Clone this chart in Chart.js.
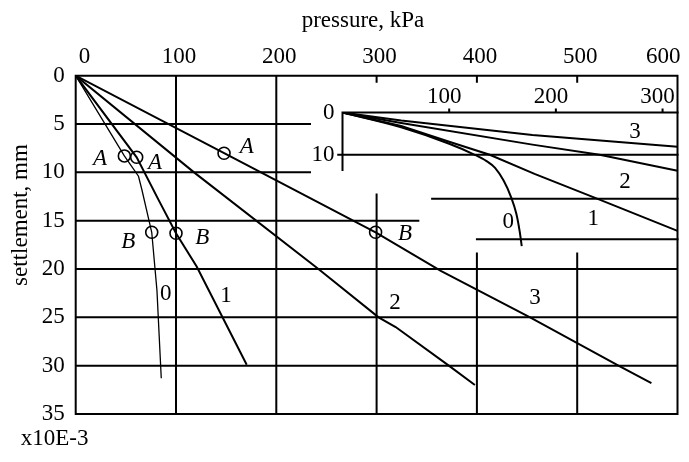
<!DOCTYPE html>
<html>
<head>
<meta charset="utf-8">
<script src="https://cdn.jsdelivr.net/npm/chart.js@4/dist/chart.umd.min.js"></script>
<style>
  body { margin: 0; background: #fff; }
  #wrap { position: relative; width: 689px; height: 462px; background: #fff; }
  #main { position: absolute; left: 0; top: 0; }
  #inset { position: absolute; left: 300px; top: 80px; }
</style>
</head>
<body>
<div id="wrap">
  <canvas id="main" width="689" height="462"></canvas>
  <canvas id="inset" width="389" height="200"></canvas>
</div>
<script>
// --- axes ---
const pressureTicks = [0, 100, 200, 300, 400, 500, 600];
const settlementTicks = [0, 5, 10, 15, 20, 25, 30, 35];
const insetPressureTicks = [100, 200, 300];
const insetSettlementTicks = [0, 10];

// --- main chart: settlement (mm) vs pressure (kPa) ---
const curve0X = [0, 48.5, 62.6, 66, 75.8, 81, 85.3];
const curve0Y = [0, 8.3, 10.4, 11.8, 16.2, 22.2, 31.3];
const curve1X = [0, 60.8, 82.6, 100, 120.6, 170.5];
const curve1Y = [0, 8.44, 12.85, 16.3, 19.75, 29.9];
const curve2X = [0, 118, 242, 302, 319, 372, 398];
const curve2Y = [0, 10, 20, 25, 26, 30, 32];
const curve3X = [0, 148, 299, 364, 453, 543, 574];
const curve3Y = [0, 8.0, 16.2, 20.2, 25, 30.1, 31.8];

// points A and B marked with circles
const circleX = [48.5, 60.8, 147.9, 75.8, 100, 299];
const circleY = [8.3, 8.44, 8.02, 16.2, 16.3, 16.2];

const curveLabels = ['0', '1', '2', '3'];
const curveLabelX = [89.9, 149.9, 318.4, 457.9];
const curveLabelY = [22.6, 22.8, 23.5, 23.0];
const pointLabels = ['A', 'A', 'A', 'B', 'B', 'B'];
const pointLabelX = [24.2, 79, 170.5, 52.4, 126.2, 328.3];
const pointLabelY = [8.65, 9.06, 7.4, 17.2, 16.8, 16.4];

// grid pieces [x1, y1, x2, y2] in data units (the picture has partial lines)
const mainGrid = [
  [0, 0, 600, 0], [0, 0, 0, 35],
  [100, 0, 100, 35], [200, 0, 200, 35], [300, 12.3, 300, 35],
  [400, 18.4, 400, 35], [500, 18.4, 500, 35], [600, 0, 600, 35],
  [0, 5, 233.6, 5], [0, 10, 233.6, 10], [0, 15, 341.6, 15],
  [0, 20, 600, 20], [0, 25, 600, 25], [0, 30, 600, 30], [0, 35, 600, 35]
];
const mainTickMarks = [300, 400, 500];

// --- inset (zoom of the start of the curves) ---
const inset0X = [0, 55, 100, 124, 135, 143, 151, 158, 163, 166, 168];
const inset0Y = [0, 3.5, 7.4, 10, 11.5, 13.1, 16.1, 20, 24, 28, 31.6];
const inset1X = [0, 55, 100, 138, 180, 238, 314];
const inset1Y = [0, 3.2, 6.9, 10, 14.5, 20.3, 28.0];
const inset2X = [0, 55, 178, 241, 314];
const inset2Y = [0, 2.5, 7.6, 10, 13.8];
const inset3X = [0, 55, 178, 314];
const inset3Y = [0, 1.9, 5.3, 8.1];

const insetLabelX = [155.4, 235, 264.8, 274.2];
const insetLabelY = [26, 25.2, 16.5, 4.7];

const insetGrid = [
  [0, 0, 314, 0], [0, 0, 0, 13.6],
  [-4, 10, 314, 10], [84, 20.4, 314, 20.4], [126, 30, 314, 30]
];

const FONT = '"Liberation Serif", "Times New Roman", serif';
const FONT_SIZE = 23;
const pts = (xs, ys) => xs.map((x, i) => ({ x, y: ys[i] }));

function curve(xs, ys, width, smooth) {
  return {
    data: pts(xs, ys), showLine: true, borderColor: '#000', borderWidth: width,
    pointRadius: 0, fill: false, tension: 0,
    cubicInterpolationMode: smooth ? 'monotone' : 'default'
  };
}

// draws grid pieces and short tick marks through the chart scales
function gridPieces(segments, ticks, tickLen) {
  return {
    id: 'gridPieces',
    beforeDatasetsDraw(chart) {
      const { ctx, scales: { x, y } } = chart;
      ctx.save();
      ctx.strokeStyle = '#000';
      ctx.lineWidth = 2;
      ctx.lineCap = 'square';
      ctx.beginPath();
      segments.forEach(([x1, y1, x2, y2]) => {
        ctx.moveTo(x.getPixelForValue(x1), y.getPixelForValue(y1));
        ctx.lineTo(x.getPixelForValue(x2), y.getPixelForValue(y2));
      });
      ctx.stroke();
      ctx.lineCap = 'butt';
      ctx.beginPath();
      ticks.forEach(v => {
        const px = x.getPixelForValue(v), py = y.getPixelForValue(0);
        ctx.moveTo(px, py);
        ctx.lineTo(px, py + tickLen);
      });
      ctx.stroke();
      ctx.restore();
    }
  };
}

// text labels placed at data positions
function dataText(id, texts, xs, ys, italic) {
  return {
    id,
    afterDatasetsDraw(chart) {
      const { ctx, scales: { x, y } } = chart;
      ctx.save();
      ctx.fillStyle = '#000';
      ctx.font = (italic ? 'italic ' : '') + FONT_SIZE + 'px ' + FONT;
      ctx.textAlign = 'center';
      ctx.textBaseline = 'middle';
      texts.forEach((t, i) => ctx.fillText(t, x.getPixelForValue(xs[i]), y.getPixelForValue(ys[i])));
      ctx.restore();
    }
  };
}

const axisTitles = {
  id: 'axisTitles',
  afterDraw(chart) {
    const ctx = chart.ctx;
    ctx.save();
    ctx.fillStyle = '#000';
    ctx.font = FONT_SIZE + 'px ' + FONT;
    ctx.textBaseline = 'alphabetic';
    ctx.textAlign = 'center';
    ctx.fillText('pressure, kPa', 363, 26.5);
    ctx.textAlign = 'left';
    ctx.fillText('x10E-3', 20.7, 445);
    ctx.translate(26.5, 215);
    ctx.rotate(-Math.PI / 2);
    ctx.textAlign = 'center';
    ctx.fillText('settlement, mm', 0, 0);
    ctx.restore();
  }
};

const tickFont = { family: FONT, size: FONT_SIZE, lineHeight: 1 };

new Chart(document.getElementById('main'), {
  type: 'scatter',
  data: {
    datasets: [
      curve(curve0X, curve0Y, 1.3),
      curve(curve1X, curve1Y, 2),
      curve(curve2X, curve2Y, 2),
      curve(curve3X, curve3Y, 2),
      {
        data: pts(circleX, circleY), showLine: false, pointStyle: 'circle',
        pointRadius: 6, pointBorderWidth: 1.6, pointBorderColor: '#000',
        pointBackgroundColor: 'rgba(0,0,0,0)'
      }
    ]
  },
  options: {
    responsive: false, animation: false, devicePixelRatio: 1,
    layout: { padding: { left: 0, top: 0, right: 11.5, bottom: 48 } },
    plugins: { legend: { display: false }, tooltip: { enabled: false } },
    scales: {
      x: {
        type: 'linear', position: 'top', min: 0, max: 600,
        afterBuildTicks: s => { s.ticks = pressureTicks.map(v => ({ value: v })); },
        afterFit: s => { s.height = 75.7; },
        grid: { display: false, drawTicks: false },
        border: { display: false },
        ticks: { color: '#000', padding: 7, autoSkip: false, maxRotation: 0, align: 'inner', labelOffset: 3, font: tickFont }
      },
      y: {
        type: 'linear', reverse: true, min: 0, max: 35,
        afterBuildTicks: s => { s.ticks = settlementTicks.map(v => ({ value: v })); },
        afterFit: s => { s.width = 75.7; },
        grid: { display: false, drawTicks: false },
        border: { display: false },
        ticks: { color: '#000', padding: 11, autoSkip: false, font: tickFont }
      }
    }
  },
  plugins: [
    gridPieces(mainGrid, mainTickMarks, 7),
    dataText('curveText', curveLabels, curveLabelX, curveLabelY, false),
    dataText('pointText', pointLabels, pointLabelX, pointLabelY, true),
    axisTitles
  ]
});

new Chart(document.getElementById('inset'), {
  type: 'scatter',
  data: {
    datasets: [
      curve(inset0X, inset0Y, 2, true),
      curve(inset1X, inset1Y, 2),
      curve(inset2X, inset2Y, 2),
      curve(inset3X, inset3Y, 2)
    ]
  },
  options: {
    responsive: false, animation: false, devicePixelRatio: 1,
    layout: { padding: { left: 0, top: 0, right: 11.5, bottom: 13.5 } },
    plugins: { legend: { display: false }, tooltip: { enabled: false } },
    scales: {
      x: {
        type: 'linear', position: 'top', min: 0, max: 314,
        afterBuildTicks: s => { s.ticks = insetPressureTicks.map(v => ({ value: v })); },
        afterFit: s => { s.height = 32.5; },
        grid: { display: false, drawTicks: false },
        border: { display: false },
        ticks: { color: '#000', padding: 4, autoSkip: false, maxRotation: 0, labelOffset: -5, font: tickFont }
      },
      y: {
        type: 'linear', reverse: true, min: 0, max: 35,
        afterBuildTicks: s => { s.ticks = insetSettlementTicks.map(v => ({ value: v })); },
        afterFit: s => { s.width = 42.5; },
        grid: { display: false, drawTicks: false },
        border: { display: false },
        ticks: { color: '#000', padding: 8, autoSkip: false, font: tickFont }
      }
    }
  },
  plugins: [
    gridPieces(insetGrid, insetPressureTicks, -4),
    dataText('insetText', curveLabels, insetLabelX, insetLabelY, false)
  ]
});
</script>
</body>
</html>
